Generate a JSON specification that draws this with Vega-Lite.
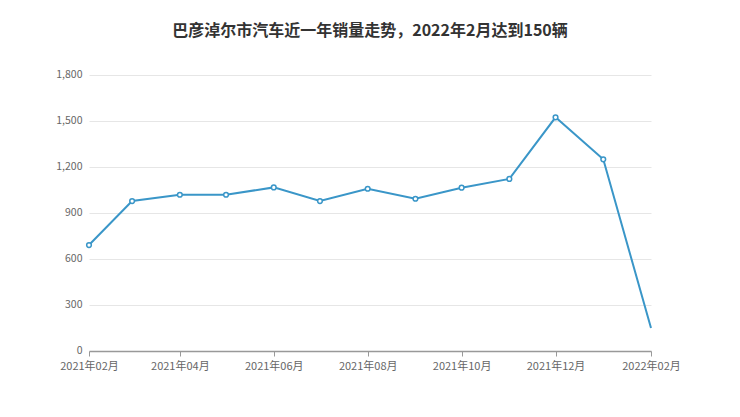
{
  "$schema": "https://vega.github.io/schema/vega-lite/v6.json",
  "width": 562,
  "height": 276,
  "autosize": "none",
  "padding": {"left": 89, "top": 75, "right": 89, "bottom": 66},
  "background": "white",
  "title": {
    "text": "巴彦淖尔市汽车近一年销量走势，2022年2月达到150辆",
    "fontSize": 16,
    "fontWeight": "bold",
    "font": "Noto Sans CJK SC",
    "color": "#333333",
    "anchor": "middle",
    "offset": 30
  },
  "config": {
    "view": {"stroke": null},
    "axis": {"labelFont": "Noto Sans CJK SC", "labelColor": "#666666", "labelFontSize": 11}
  },
  "data": {
    "values": [
      {"month": "2021-02-01", "sales": 691},
      {"month": "2021-03-01", "sales": 978},
      {"month": "2021-04-01", "sales": 1019},
      {"month": "2021-05-01", "sales": 1019},
      {"month": "2021-06-01", "sales": 1067},
      {"month": "2021-07-01", "sales": 978},
      {"month": "2021-08-01", "sales": 1058},
      {"month": "2021-09-01", "sales": 993},
      {"month": "2021-10-01", "sales": 1065},
      {"month": "2021-11-01", "sales": 1122},
      {"month": "2021-12-01", "sales": 1524},
      {"month": "2022-01-01", "sales": 1250},
      {"month": "2022-02-01", "sales": 150}
    ]
  },
  "encoding": {
    "x": {
      "field": "month",
      "type": "temporal",
      "timeUnit": "utcyearmonth",
      "scale": {"type": "utc", "nice": false},
      "axis": {
        "title": null,
        "format": "%Y年%m月",
        "values": [
          {"year": 2021, "month": 2, "date": 1, "utc": true},
          {"year": 2021, "month": 4, "date": 1, "utc": true},
          {"year": 2021, "month": 6, "date": 1, "utc": true},
          {"year": 2021, "month": 8, "date": 1, "utc": true},
          {"year": 2021, "month": 10, "date": 1, "utc": true},
          {"year": 2021, "month": 12, "date": 1, "utc": true},
          {"year": 2022, "month": 2, "date": 1, "utc": true}
        ],
        "grid": false,
        "domainColor": "#999999",
        "domainWidth": 1.5,
        "tickColor": "#999999",
        "tickSize": 5,
        "labelPadding": 4,
        "labelFlush": false
      }
    },
    "y": {
      "field": "sales",
      "type": "quantitative",
      "scale": {"domain": [0, 1800], "nice": false},
      "axis": {
        "title": null,
        "values": [0, 300, 600, 900, 1200, 1500, 1800],
        "format": ",.0f",
        "domain": false,
        "ticks": false,
        "gridColor": "#e6e6e6",
        "labelPadding": 7,
        "labelFontSize": 10.5,
        "labelOffset": -1
      }
    }
  },
  "layer": [
    {"mark": {"type": "line", "color": "#3a96c8", "strokeWidth": 2}},
    {
      "transform": [{"filter": "datum.sales != 150"}],
      "mark": {"type": "point", "filled": true, "fill": "white", "stroke": "#3a96c8", "strokeWidth": 1.5, "size": 22, "opacity": 1}
    }
  ]
}
